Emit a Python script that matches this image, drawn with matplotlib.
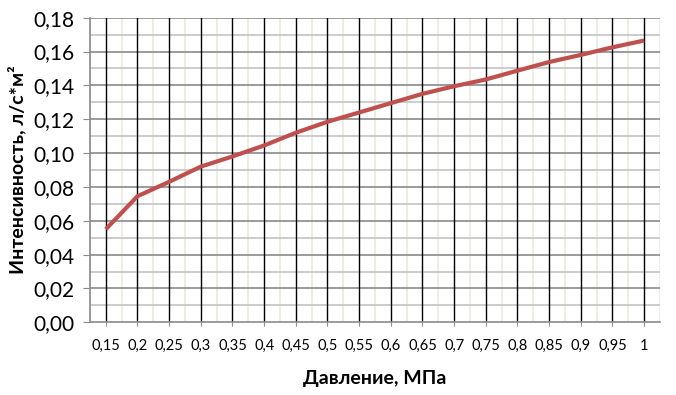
import numpy as np
import matplotlib.pyplot as plt

# pressure categories (MPa) and intensity (l/s*m2)
pressure = ["0,15", "0,2", "0,25", "0,3", "0,35", "0,4", "0,45", "0,5", "0,55",
            "0,6", "0,65", "0,7", "0,75", "0,8", "0,85", "0,9", "0,95", "1"]
intensity = [0.055, 0.0745, 0.083, 0.092, 0.098, 0.1045, 0.112, 0.1185, 0.124,
             0.1295, 0.135, 0.1395, 0.1435, 0.1487, 0.1538, 0.158, 0.1625, 0.1665]
yticks = np.arange(0, 0.181, 0.02)

plt.rcParams['font.family'] = ['Lato', 'Open Sans', 'DejaVu Sans']

fig = plt.figure(figsize=(6.76, 3.95), dpi=100)
ax = fig.add_axes([0.1331, 0.1841, 0.9763 - 0.1331, 0.9552 - 0.1841])

x = np.arange(len(pressure))
ax.set_xlim(-0.5, len(pressure) - 0.5)
ax.set_ylim(0, 0.18)
ax.set_axisbelow(True)

# grid: beige verticals between categories, gray horizontals, black at categories
for b in np.arange(-0.5, len(pressure), 1.0):
    ax.axvline(b, color="#eeece1", lw=1.3, zorder=0.5)
for v in np.arange(0.01, 0.18, 0.02):
    ax.axhline(v, color="#c4c4c4", lw=1.2, zorder=0.6)
for v in yticks[1:]:
    ax.axhline(v, color="#8a8a8a", lw=1.2, zorder=0.7)
for c in x:
    ax.axvline(c, color="black", lw=1.0, zorder=0.8)

ax.plot(x, intensity, color="#c0504d", lw=3, solid_capstyle="butt", zorder=3)

ax.set_xticks(x)
ax.set_xticklabels(pressure, fontsize=10.5)
ax.set_yticks(yticks)
ax.set_yticklabels([f"{v:.2f}".replace(".", ",") for v in yticks], fontsize=15)

ax.tick_params(axis="y", length=5, color="#8a8a8a", pad=6)
ax.tick_params(axis="x", length=3, color="#8a8a8a", pad=9)

for s in ["top", "right"]:
    ax.spines[s].set_visible(False)
for s in ["left", "bottom"]:
    ax.spines[s].set_color("#8a8a8a")
    ax.spines[s].set_linewidth(1.2)
    ax.spines[s].set_zorder(1)

ax.set_xlabel("Давление, МПа", fontsize=14, fontweight="bold", labelpad=12)
ax.set_ylabel("Интенсивность, л/с*м²", fontsize=14, fontweight="bold", labelpad=5)

fig.savefig("out.png", dpi=100)
